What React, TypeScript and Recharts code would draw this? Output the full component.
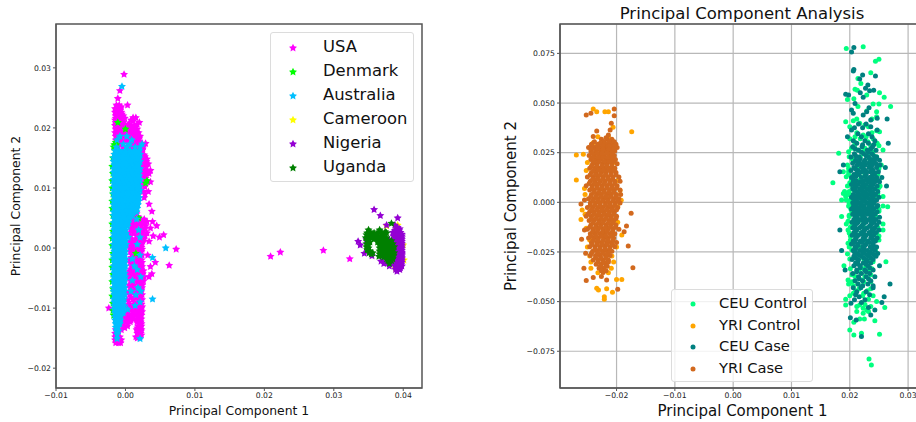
import React from "react";
import { ScatterChart, Scatter, XAxis, YAxis, CartesianGrid, Legend, ReferenceArea, Label } from "recharts";

// Every row: first number is PC2, the others are PC1 values of points at that PC2 (both in units of 1e-4).
const usaRows = [
  [289,-2],[262,-8],[249,-11],[238,3,-13,-9],[232,-15,-11,-7],[226,-15,-12,-9,-6],[220,-14,-11,-7,-3],[217,11,15],
  [213,-15,-12,-9,-5,8],[209,20,-14,-8,-3],[204,-15,-11,-6,-1,7,13],[198,-14,-10,-5,3,10,17],[192,-15,-11,-5,8,14,19],
  [186,-14,-9,-2,5,11,16,21],[180,-14,-8,1,7,13,18],[174,29,-13,-4,4,11,18,24],[169,26,-12,-2,6,14,21],[162,-6,1,9,17,24],
  [155,4,12,22,27],[148,31,21,25],[140,22,28,33],[129,36,26,31],[124,26,30,34],[116,24,29],[110,27,32,36],[102,22,28],
  [94,33,26],[84,27],[73,34],[61,38],[52,18,9,14],[44,39,12,20,26,31],[37,45,10,16,23,29],[33,36,8,14,22,28],[25,6,12,18,24,31],
  [20,40,7,16,22,28],[18,49],[22,55],[11,34,6,13,19,25],[5,5,10,16,22],[-2,73,8,14,20,24],[-7,223],[-4,285],[-12,32,10,18,24],
  [-14,209],[-18,323],[-24,43,7,13,20,24],[-29,63],[-31,36,9,16,24],[-38,6,13,21,26],[-43,38,10,18,25],[-48,34,5,14,22,27],
  [-55,8,16,24,26],[-62,5,12,20,24],[-70,9,17,23],[-78,6,14,22,24],[-86,2,11,19,24],[-94,5,13,21,23],[-100,-24,9,17,23],
  [-106,3,11,19,24],[-112,6,14,20,23],[-118,-2,4,12,19,23],[-123,0,-5,7,17,22],[-130,-3,3,18,23],[-136,-14,-6,16,20,23],
  [-142,-15,-11,17,22],[-148,15,21,-15,-8],[-153,-15,-12,-9,-6],[-158,-14,-10,-7],
];
const usaFillRows = [
  [235,-12,-6],[229,-13,-8],[223,-13,-5],[216,-14,-7,-1],[211,-11,-6,11],[206,-13,-4,4,17],[201,-9,-2,5,14],[195,-13,-7,1,6,12,15],[189,-11,-4,3,9,17],
  [183,-12,-6,3,10,15,20],[177,-9,-1,6,12,20],[171,-7,9,17,23],[165,12,20,25],[158,16,23],[152,24,28],[144,24,30],[135,25,30],[119,28],[106,26],
  [90,28],[57,12,16],[48,7,13,17,22,27],[41,8,14,21,27],[29,9,15,20,26],[15,9,16,21,27],[8,8,14,19,24],[1,6,11,17,23],[-6,7,12,18,23],[-16,8,15,21],
  [-20,6,11,17,23],[-27,10,16,22],[-35,8,15,19,23],[-41,5,12,16,22],[-46,9,18,24],[-51,6,11,20,25],[-58,11,18,22],[-66,7,14,20,24],[-74,4,12,19,22],
  [-82,8,16,21],[-90,5,13,18,22],[-98,2,11,20,24],[-104,7,15,21],[-110,1,9,17,22],[-115,-1,5,11,21],[-120,2,8,16,21],[-126,-3,3,19,23],[-133,-1,17,21],
  [-139,18,22,-12],[-145,19,23,-13],[-150,17,-12],[-156,-12],
];
const denmarkRows = [
  [209,-11],[198,0],[176,-14],[172,-16,-13],[168,-17,-15],[163,-15],[150,-18],[136,-19],[124,-18],[112,31,-19],[108,29],[100,-19],
  [90,-18],[78,-19],[66,-19],[54,-18],[50,19],[40,-19],[28,-18],[16,-19],[4,-19],[-9,15,-18],[-20,-19],[-32,-19],[-44,-18],
  [-56,-19],[-68,-18],[-80,-19],[-92,-18],[-104,-18],[-112,-17],
];
const australiaRows = [
  [269,-5],[186,-8,2],[180,-12,9],[173,-3,6,24],[168,-13,2,14,21],[162,-15,-9,-1,7,13,20],[156,-16,-10,-4,3,10,17,21],
  [150,-17,-12,-6,1,8,14,20],[144,-17,-11,-5,2,8,15,21],[138,-16,-10,-4,1,7,14,19],[132,-17,-12,-5,2,9,15,21],[126,-17,-11,-6,0,7,13,20],
  [120,-16,-10,-4,2,8,14,20],[114,-17,-11,-5,1,7,15,21],[108,-17,-12,-6,0,8,14,19],[102,-16,-10,-4,2,9,15,20],[96,-17,-11,-5,1,7,13,21],
  [90,-17,-12,-6,2,8,14,19],[84,-16,-10,-4,1,7,15,20],[78,-17,-11,-5,2,9,13,19],[72,-17,-12,-6,0,8,14,18],[66,-16,-10,-4,2,7,13,17],
  [60,-17,-11,-5,1,8,12,16],[54,-17,-12,-6,0,6,10],[48,-16,-10,-4,1,5,16],[42,-17,-11,-5,0,4],[36,-17,-12,-6,-1,3],[30,-16,-10,-4,0,19],
  [24,-17,-11,-5,1],[18,-17,-12,-6,-1,4,21],[12,-16,-10,-4,0],[6,-17,-11,-5,1,17],[0,-17,-12,-6,-1,58],[-6,-16,-10,-4,0],[-12,-17,-11,-5,-1,21],
  [-16,39],[-18,-17,-12,-6,0,10],[-24,-16,-10,-4,-1],[-30,-17,-11,-5,0,13],[-36,-17,-12,-6,-2,17],[-42,-16,-10,-4,-1],[-48,-17,-11,-5,0,22],
  [-54,-17,-12,-6,-1,10],[-60,-16,-10,-4,-2],[-66,-17,-11,-5,-1,18],[-72,-17,-12,-6,-2,8,22],[-78,-16,-10,-4,-1,15],[-85,-17,-11,-5,-2,39],
  [-90,-16,-11,-6,-3,21],[-96,-16,-10,-5,-2,14],[-102,-16,-11,-6,-3,3],[-108,-15,-10,-6,-3],[-114,-15,-11,-7],[-120,-15,-10,-7],[-126,-14,-11,-8],
  [-132,-14,-11],[-138,-13,-10],[-144,-12],[-151,-12,21],
];
const australiaFillRows = [
  [159,-12,-6,0,6,12,18],[153,-14,-8,-2,4,11,17],[147,-14,-8,-2,5,11,18],[141,-13,-7,-1,4,11,17],[135,-14,-8,-2,5,12,17],[129,-14,-8,-2,4,10,17],
  [123,-13,-7,-1,5,11,17],[117,-14,-8,-2,4,11,18],[111,-14,-9,-3,4,11,16],[105,-13,-7,-1,5,12,17],[99,-14,-8,-2,4,10,18],[93,-14,-9,-3,5,11,16],
  [87,-13,-7,-2,4,12,17],[81,-14,-8,-2,5,11,16],[75,-14,-9,-3,4,11,16],[69,-13,-7,-1,5,10,15],[63,-14,-8,-2,4,10,14],[57,-14,-9,-3,3,8],[51,-13,-7,-1,4,7],
  [45,-14,-8,-2,2],[39,-14,-9,-3,1],[33,-13,-7,-2],[27,-14,-8,-2,-1],[21,-14,-9,-3],[15,-13,-7,-2],[9,-14,-8,-2],[3,-14,-9,-3],[-3,-13,-7,-2],[-9,-14,-8,-3],
  [-15,-14,-9,-3],[-21,-13,-7,-2],[-27,-14,-8,-3],[-33,-14,-9,-4],[-39,-13,-7,-3],[-45,-14,-8,-3],[-51,-14,-9,-4],[-57,-13,-7,-3],[-63,-14,-8,-3],
  [-69,-14,-9,-4],[-75,-13,-7,-3],[-81,-14,-8,-4],[-87,-14,-9,-5],[-93,-13,-8,-4],[-99,-14,-8,-4],[-105,-13,-8,-5],[-111,-13,-9],[-117,-13,-9],[-123,-12,-9],[-129,-12],[-135,-12],
];
const cameroonRows = [[38,392],[37,376],[36,389],[5,400],[-20,401],[-34,389]];
const nigeriaRows = [
  [64,358],[54,367],[50,392],[38,376,388],[32,390,395],[26,385,391,396],[20,386,392,398],[14,347,380,386,392,398],[11,335],[8,370,386,392,398],[5,338],
  [2,375,386,392,398],[-4,372,380,387,393,398],[-9,344,386,392,398],[-13,355,376,387,393,398],[-18,386,392,398],[-24,378,387,393,398],
  [-26,372],[-30,380,388,394,398],[-36,389,395],[-39,391],
];
const nigeriaFillRows = [
  [34,392],[29,388,394],[23,389,394,398],[17,372,388,394,398],[11,376,389,395,398],[5,389,395,398],[-1,389,394,398],[-7,368,389,395,398],[-11,370,389,394,398],
  [-16,373,389,395,398],[-21,382,389,394,398],[-27,384,390,395,397],[-33,391,396],[-22,368],
];
const ugandaRows = [
  [41,383],[30,350,366],[27,352,365,374],[22,347,356,362,372],[17,346,354,365,376],[12,348,366,372,378,383],[7,347,368,374,380,385],
  [2,347,368,372,377,383,387],[-3,348,370,375,381,385],[-8,351,356,372,377,383,387],[-12,371,376,382,386],[-14,365],[-18,376,380,385],[-26,380],
];
const ugandaFillRows = [
  [25,348,358,369,376],[20,351,360,368],[15,350,358,363,370],[10,352,363,369,375,381],[5,350,366,371,377,383],[0,350,366,370,375,380,385],[-5,352,366,372,378,384],
  [-10,354,366,369,374,380,385],[-15,372,378,384],[-21,378,383],
];

const ceuControlRows = [
  [784,223],[775,194],[720,250],[711,244],[653,236],[624,214],[599,219],[569,209],[565,213],[552,251],[540,229],[529,259],[522,207],[518,196],
  [495,240,250],[482,270,214],[460,229],[456,246],[431,246],[411,206],[406,193],[398,217],[389,226],[361,246],[356,251],[339,223],[330,209,228],
  [305,231,208],[297,247],[272,203,226],[263,257,214],[247,181,232],[230,199,218,246],[205,206,240],[188,254,196],[154,189,198],[129,194,204],[99,171,200],
  [82,196,252],[54,191,199],[45,189,196,248],[29,257,193],[12,186,194,201],[-18,257,198],[-22,265,200],[-45,204,250],[-72,186,199],[-109,194,257,205],[-139,197,257],
  [-170,201,250],[-206,197,206],[-240,204,244],[-260,196,212],[-299,262,240],[-320,190,228],[-345,216,232],[-374,209,226],[-391,197,221],[-411,198,214],[-435,216,236],
  [-458,206,224],[-488,193,232],[-500,246],[-517,193,217],[-530,260],[-534,223],[-542,229],[-559,223],[-587,217,225],[-596,243],[-604,207],[-643,200],[-659,220],
  [-664,251],[-668,207],[-789,233],[-819,237],
];
const ceuControlFillRows = [
  [420,212,238],[380,200,232],[350,212,238],[320,200,218,240],[285,208,236,250],[255,198,222,240],[220,204,234],[170,198,212,250],[140,198,226,248],[115,203,218,240],
  [75,205,230,250],[35,201,222,244],[-5,199,215,240],[-35,202,226,250],[-65,199,221,244],[-95,197,215,240],[-125,201,224,248],[-155,199,219,246],[-190,201,226,250],
  [-225,199,216,240],[-285,200,224,236],[-335,201,224,238],[-365,204,236],[-400,204,224,236],[-420,206,222],[-445,210,230],[-470,200,222,240],[-515,226],[-525,212,236],[-550,212,232],
];
const yriControlRows = [
  [470,-240],[456,-234,-220,-214],[378,-206],[356,-174],[330,-232,-214],[300,-240],[270,-228,-206],[242,-257],[238,-269],[200,-250,-205],[160,-252],
  [112,-269],[110,-198],[70,-255],[60,-194],[40,-254],[10,-192],[-22,-198],[-39,-259],[-60,-254],[-86,-261],[-100,-198],[-130,-252],[-164,-191],[-190,-246],
  [-225,-200,-250],[-270,-208,-246],[-300,-244,-205],[-332,-244,-209],[-355,-232,-214],[-388,-191,-200],[-433,-234],[-435,-217],[-441,-231],[-453,-207],[-475,-221],[-488,-221],
];
const ceuCaseRows = [
  [780,207],[757,203],[669,207],[661,206],[641,222],[636,244],[621,217],[591,231],[574,227],[565,241],[562,234],[552,218],[544,193],[540,198],[529,223],[498,209],[476,233],
  [465,203],[456,229],[448,206],[440,223],[423,247],[419,264],[414,236],[395,215,228],[381,236],[375,208,222],[364,203,247],[345,214,232],[330,196,220,238],[310,206,226,243],
  [297,266,212,232],[280,205,221,239],[262,215,230,245],[245,208,224,238],[228,202,216,232,246],[212,210,226,240,251],[197,205,218,232,244],[188,189,213,226,238,252],
  [175,261,207,220,233,246],[160,202,214,227,240],[154,183,221,235,249],[140,207,216,228,241],[125,203,220,234,246,255],[110,211,225,238,249],[104,251,206,218,232,243],
  [90,203,214,228,240],[82,263,209,221,235,247],[68,205,217,230,243],[54,212,224,238,248],[40,206,219,233,244],[26,203,214,228,240,250],[12,209,222,236,246],
  [-2,205,216,230,242],[-16,211,225,238,248],[-22,246,206,218,233],[-34,203,214,228,241],[-48,209,221,235,247],[-60,205,217,230,243],[-75,251,212,224,238],
  [-86,207,219,233,245],[-100,204,214,228,241,250],[-114,209,222,236,246],[-128,205,217,230,243],[-139,183,212,225,238,250],[-152,207,220,233,245],[-166,204,215,228,241],
  [-180,210,223,236,247],[-195,206,218,231,244],[-210,203,214,228,240],[-225,209,222,235,246],[-243,186,206,217,230,243],[-258,212,225,238,248],[-272,207,220,233,245],
  [-288,204,215,228,240],[-305,210,223,236],[-319,251,207,218,231],[-341,192,212,226,240],[-358,205,220,234],[-375,215,228,243],[-395,209,222,236],[-411,269,214,231],
  [-430,206,219,240],[-450,212,228],[-475,259,216],[-490,208,226],[-505,255,220],[-508,202],[-530,232],[-542,243],[-567,236],[-581,201],[-592,211],[-676,220],
];
const ceuCaseFillRows = [
  [290,222,241],[270,209,236],[252,220,232],[235,210,228,241],[220,218,234,244],[205,212,225,238],[190,220,234,246],[168,210,224,238],[148,212,228,243],[132,211,226,238],
  [118,206,230,242],[98,209,222,236],[75,210,224,237],[60,208,220,234],[47,214,228,240],[33,210,224,238],[19,206,218,232],[5,212,226,240],[-9,208,220,235],[-27,210,224,238],
  [-41,208,218,232],[-54,213,226,240],[-68,209,222,236],[-80,213,226,240],[-93,209,223,236],[-107,212,224,238],[-121,208,220,234],[-134,212,226,240],[-146,210,224,238],
  [-159,209,222,235],[-173,212,226,238],[-188,210,224,240],[-202,208,221,234],[-218,214,226,240],[-234,210,224,238],[-250,208,222,234],[-265,216,230,242],[-280,210,224,236],
  [-296,214,230],[-312,214,228],[-330,218,234],[-350,212,228],[-385,216,232],[-420,222,240],[-465,210,234],
];
const yriCaseRows = [
  [470,-204],[448,-244],[440,-252],[436,-204],[398,-209],[364,-211],[359,-234],[339,-214],[331,-240],[318,-226,-216,-208],[305,-238,-222,-212,-204],
  [292,-243,-232,-220,-210,-201],[276,-248,-238,-228,-218,-208,-199],[258,-244,-236,-227,-219,-211,-203],[236,-247,-238,-229,-221,-212,-204],[216,-244,-235,-227,-218,-210,-202],
  [194,-241,-233,-224,-216,-208,-199],[172,-246,-237,-228,-220,-211,-203],[150,-243,-235,-226,-218,-209,-201],[128,-250,-240,-232,-223,-215,-206,-196],
  [106,-245,-237,-228,-220,-211,-203,-194],[84,-252,-242,-234,-225,-217,-208,-199],[62,-246,-238,-229,-221,-212,-204,-194],[40,-243,-234,-226,-217,-209,-200,-193],
  [18,-248,-239,-231,-222,-214,-205,-196],[12,-255],[-4,-245,-236,-228,-219,-211,-202,-194],[-8,-261],[-26,-250,-241,-232,-224,-215,-207,-198],[-48,-246,-238,-229,-221,-212,-204],
  [-55,-175],[-70,-252,-243,-234,-226,-217,-209,-200],[-92,-247,-239,-230,-222,-213,-205],[-114,-244,-235,-227,-218,-210,-201],[-119,-183],[-136,-250,-240,-232,-223,-215,-206,-196],
  [-139,-255],[-148,-187],[-158,-245,-237,-228,-220,-211,-203],[-186,-260],[-180,-248,-239,-231,-222,-214,-205],[-202,-243,-234,-226,-217,-209,-200],[-220,-180],
  [-224,-246,-237,-228,-220,-211,-203],[-246,-241,-233,-224,-216,-208],[-257,-253],[-268,-245,-236,-228,-219,-211],[-290,-240,-231,-223,-214],[-312,-235,-226,-218],
  [-329,-172],[-332,-256,-230,-222],[-354,-223],[-374,-226],[-378,-240],[-391,-217],[-394,-252],[-438,-198],
];
const yriCaseFillRows = [
  [325,-218],[298,-228,-215],[284,-242,-233,-223,-213,-204],[267,-243,-232,-223,-214,-205],[247,-242,-233,-225,-216,-208],[226,-241,-232,-224,-215,-207],[205,-239,-230,-221,-213,-205],
  [183,-243,-234,-225,-217,-208],[161,-239,-231,-222,-214,-205],[139,-245,-236,-228,-219,-210,-201],[117,-241,-233,-224,-215,-207],[95,-247,-238,-230,-221,-212,-203],
  [73,-242,-233,-225,-216,-208,-200],[51,-238,-230,-221,-213,-205],[29,-244,-235,-226,-218,-210,-201],[7,-241,-232,-224,-215,-206,-198],[-15,-245,-237,-228,-219,-211,-203],
  [-37,-243,-234,-225,-217,-208,-200],[-59,-249,-239,-231,-222,-214,-205],[-81,-243,-235,-226,-218,-209,-201],[-103,-240,-231,-223,-214,-206],[-125,-246,-236,-228,-219,-211,-202],
  [-147,-241,-233,-224,-216,-207],[-169,-244,-235,-226,-218,-209],[-191,-240,-232,-223,-215,-206],[-213,-242,-233,-224,-216,-207],[-235,-237,-229,-220,-212],[-257,-243,-232,-224,-215],
  [-279,-236,-227,-218],[-301,-232,-222,-214],[-322,-228,-216],[-345,-226,-218],
];

const toPoints = (rows: number[][]) =>
  rows.flatMap(([y, ...xs]) => xs.map((x) => ({ x: x / 10000, y: y / 10000 })));

const leftSeries = [
  { name: "USA", color: "#ff00ff", rows: [...usaRows, ...usaFillRows] },
  { name: "Denmark", color: "#00ff00", rows: denmarkRows },
  { name: "Australia", color: "#00bfff", rows: [...australiaRows, ...australiaFillRows] },
  { name: "Cameroon", color: "#ffff00", rows: cameroonRows },
  { name: "Nigeria", color: "#9400d3", rows: [...nigeriaRows, ...nigeriaFillRows] },
  { name: "Uganda", color: "#008000", rows: [...ugandaRows, ...ugandaFillRows] },
];
const rightSeries = [
  { name: "CEU Control", color: "#00ff7f", rows: [...ceuControlRows, ...ceuControlFillRows] },
  { name: "YRI Control", color: "#ffa500", rows: yriControlRows },
  { name: "CEU Case", color: "#008080", rows: [...ceuCaseRows, ...ceuCaseFillRows] },
  { name: "YRI Case", color: "#d2691e", rows: [...yriCaseRows, ...yriCaseFillRows] },
];

const leftXTicks = [-0.01, 0, 0.01, 0.02, 0.03, 0.04];
const leftYTicks = [-0.02, -0.01, 0, 0.01, 0.02, 0.03];
const rightXTicks = [-0.02, -0.01, 0, 0.01, 0.02, 0.03];
const rightYTicks = [-0.075, -0.05, -0.025, 0, 0.025, 0.05, 0.075];

const FONT = "'DejaVu Sans', sans-serif";
const fmt = (d: number) => (v: number) => v.toFixed(d).replace("-", "\u2212");
const tickStyle = { fontSize: 7.7, fill: "#222", fontFamily: FONT };
const FRAME = "#555";

const starPoints = (cx: number, cy: number, R: number) => {
  const out: string[] = [];
  for (let i = 0; i < 10; i++) {
    const r = i % 2 === 0 ? R : R * 0.5;
    const a = -Math.PI / 2 + (i * Math.PI) / 5;
    out.push(`${cx + r * Math.cos(a)},${cy + r * Math.sin(a)}`);
  }
  return out.join(" ");
};
const StarDot = (p: any) => <polygon points={starPoints(p.cx, p.cy, 4.2)} fill={p.fill} />;
const RoundDot = (p: any) => <circle cx={p.cx} cy={p.cy} r={2.5} fill={p.fill} />;

const makeLegend = (opts: { width: number; rowH: number; pad: number; markX: number; textX: number; font: number; star: boolean }) =>
  ({ payload }: any) => (
    <div style={{ width: opts.width, boxSizing: "border-box", padding: `${opts.pad}px 0`, background: "rgba(255,255,255,0.8)", border: "1px solid #dcdcdc", borderRadius: 3, fontFamily: FONT, fontSize: opts.font, color: "#111" }}>
      {(payload || []).map((p: any) => (
        <div key={p.value} style={{ position: "relative", height: opts.rowH, lineHeight: `${opts.rowH}px`, whiteSpace: "nowrap" }}>
          <svg width={10} height={10} style={{ position: "absolute", left: opts.markX - 5, top: opts.rowH / 2 - 4 }}>
            {opts.star ? (
              <polygon points={starPoints(5, 5, 4.2)} fill={p.color} />
            ) : (
              <circle cx={5} cy={5} r={2.5} fill={p.color} />
            )}
          </svg>
          <span style={{ position: "absolute", left: opts.textX }}>{p.value}</span>
        </div>
      ))}
    </div>
  );

export default function App() {
  return (
    <div style={{ position: "absolute", left: 0, top: 0, width: 916, height: 422, overflow: "hidden", background: "#fff" }}>
      <div style={{ position: "absolute", left: 0, top: 0 }}>
        <ScatterChart width={458} height={422} margin={{ top: 24, right: 36, bottom: 0, left: 0 }}>
          <XAxis type="number" dataKey="x" domain={[-0.01, 0.0427]} ticks={leftXTicks} tickFormatter={fmt(2)} height={34} tick={tickStyle} tickSize={3} tickMargin={2} stroke={FRAME} interval={0} allowDataOverflow>
            <Label value="Principal Component 1" position="insideBottom" offset={7} style={{ fontSize: 12.4, fontFamily: FONT, fill: "#111" }} />
          </XAxis>
          <YAxis type="number" dataKey="y" domain={[-0.0233, 0.0373]} ticks={leftYTicks} tickFormatter={fmt(2)} width={56} tick={tickStyle} tickSize={3} tickMargin={2} stroke={FRAME} interval={0} allowDataOverflow>
            <Label value="Principal Component 2" angle={-90} position="insideLeft" offset={16} style={{ fontSize: 12.4, fontFamily: FONT, fill: "#111", textAnchor: "middle" }} />
          </YAxis>
          <ReferenceArea x1={-0.01} x2={0.0427} y1={-0.0233} y2={0.0373} fill="none" stroke={FRAME} strokeWidth={1.5} ifOverflow="visible" />
          {leftSeries.map((s) => (
            <Scatter key={s.name} name={s.name} data={toPoints(s.rows)} fill={s.color} shape={StarDot} isAnimationActive={false} />
          ))}
          <Legend layout="vertical" align="center" verticalAlign="middle" itemSorter={null} wrapperStyle={{ left: 270, top: 32, width: 144 }}
            content={makeLegend({ width: 144, rowH: 24, pad: 2, markX: 22, textX: 52, font: 16.4, star: true })} />
        </ScatterChart>
      </div>
      <div style={{ position: "absolute", left: 458, top: 0 }}>
        <ScatterChart width={480} height={422} margin={{ top: 24, right: 13, bottom: 0, left: 0 }}>
          <CartesianGrid stroke="#b8b8b8" strokeWidth={1.2} />
          <XAxis type="number" dataKey="x" domain={[-0.0297, 0.0329]} ticks={rightXTicks} tickFormatter={fmt(2)} height={34} tick={tickStyle} tickSize={3} tickMargin={2} stroke={FRAME} interval={0} allowDataOverflow>
            <Label value="Principal Component 1" position="insideBottom" offset={6} style={{ fontSize: 15, fontFamily: FONT, fill: "#111" }} />
          </XAxis>
          <YAxis type="number" dataKey="y" domain={[-0.0935, 0.0898]} ticks={rightYTicks} tickFormatter={fmt(3)} width={102} tick={tickStyle} tickSize={3} tickMargin={2} stroke={FRAME} interval={0} allowDataOverflow>
            <Label value="Principal Component 2" angle={-90} position="insideLeft" offset={53} style={{ fontSize: 15, fontFamily: FONT, fill: "#111", textAnchor: "middle" }} />
          </YAxis>
          <ReferenceArea x1={-0.0297} x2={0.0329} y1={-0.0935} y2={0.0898} fill="none" stroke={FRAME} strokeWidth={1.5} ifOverflow="visible" />
          {rightSeries.map((s) => (
            <Scatter key={s.name} name={s.name} data={toPoints(s.rows)} fill={s.color} shape={RoundDot} isAnimationActive={false} />
          ))}
          <text x={284} y={19} textAnchor="middle" style={{ fontSize: 16.5, fontFamily: FONT, fill: "#111" }}>Principal Component Analysis</text>
          <Legend layout="vertical" align="center" verticalAlign="middle" itemSorter={null} wrapperStyle={{ left: 213, top: 289, width: 142 }}
            content={makeLegend({ width: 142, rowH: 21.7, pad: 2, markX: 21, textX: 47, font: 14.7, star: false })} />
        </ScatterChart>
      </div>
    </div>
  );
}
